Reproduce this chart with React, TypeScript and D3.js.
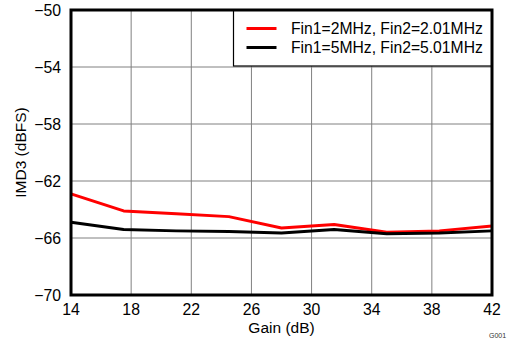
import React from "react";
import * as d3 from "d3";

const gains = [14, 17.5, 21, 24.5, 28, 31.5, 35, 38.5, 42];
const series2MHz = [-62.9, -64.1, -64.3, -64.5, -65.3, -65.05, -65.6, -65.5, -65.15];
const series5MHz = [-64.9, -65.4, -65.5, -65.55, -65.65, -65.4, -65.7, -65.65, -65.5];
const xTicks = [14, 18, 22, 26, 30, 34, 38, 42];
const yTicks = [-50, -54, -58, -62, -66, -70];
const legendLabels = ["Fin1=2MHz, Fin2=2.01MHz", "Fin1=5MHz, Fin2=5.01MHz"];
const colors = ["#ff0000", "#000000"];

export default function App() {
  const W = 510, H = 345;
  const L = 71, R = 492, T = 10, B = 295;
  const x = d3.scaleLinear().domain([14, 42]).range([L, R]);
  const y = d3.scaleLinear().domain([-70, -50]).range([B, T]);
  const line = d3.line<number>().x((_, i) => x(gains[i])).y((d) => y(d));
  const font = "'Liberation Sans', Arial, sans-serif";
  const allSeries = [series2MHz, series5MHz];
  return (
    <svg width={W} height={H} style={{ position: "absolute", left: 0, top: 0, background: "#fff" }} fontFamily={font}>
      {xTicks.map((t) => (
        <line key={"gx" + t} x1={x(t)} x2={x(t)} y1={T} y2={B} stroke="#808080" strokeWidth={1} />
      ))}
      {yTicks.map((t) => (
        <line key={"gy" + t} x1={L} x2={R} y1={y(t)} y2={y(t)} stroke="#808080" strokeWidth={1} />
      ))}
      {allSeries.map((s, i) => (
        <path key={"s" + i} d={line(s) || ""} fill="none" stroke={colors[i]} strokeWidth={3} strokeLinejoin="round" />
      ))}
      <rect x={233.5} y={T} width={R - 233.5} height={56} fill="#fff" stroke="#000" strokeWidth={1.2} />
      {legendLabels.map((lab, i) => (
        <g key={"lg" + i}>
          <line x1={246.5} x2={276.5} y1={28.5 + i * 19} y2={28.5 + i * 19} stroke={colors[i]} strokeWidth={3} />
          <text x={291} y={34 + i * 19} fontSize={15.7} fill="#000">{lab}</text>
        </g>
      ))}
      <rect x={L} y={T} width={R - L} height={B - T} fill="none" stroke="#000" strokeWidth={3} />
      {yTicks.map((t) => (
        <text key={"ty" + t} x={61} y={y(t) + 5.5} textAnchor="end" fontSize={15.8}>
          {d3.format("")(t).replace("-", "\u2212")}
        </text>
      ))}
      {xTicks.map((t) => (
        <text key={"tx" + t} x={x(t)} y={314.5} textAnchor="middle" fontSize={15.8}>
          {t}
        </text>
      ))}
      <text x={(L + R) / 2} y={333} textAnchor="middle" fontSize={15.5}>Gain (dB)</text>
      <text transform={`translate(25.5,${(T + B) / 2}) rotate(-90)`} textAnchor="middle" fontSize={15.5}>IMD3 (dBFS)</text>
      <text x={489} y={338} fontSize={7} fill="#333">G001</text>
    </svg>
  );
}
